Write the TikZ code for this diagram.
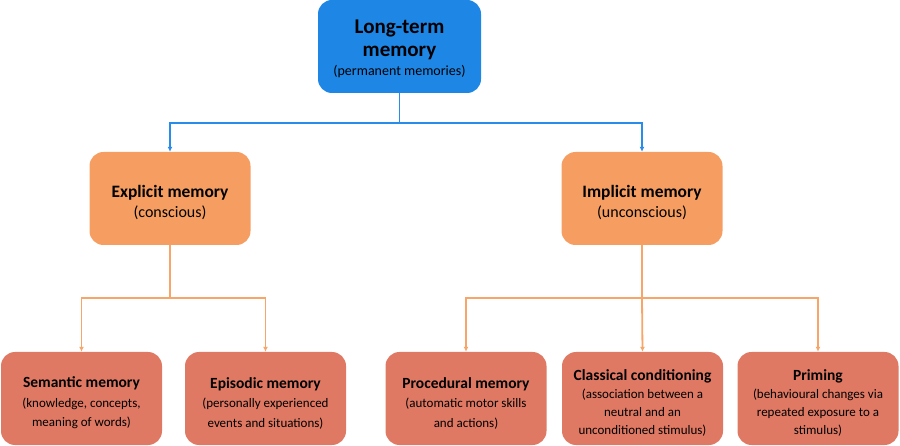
\documentclass[tikz,border=0pt]{standalone}
\usepackage{fontspec}
\setmainfont{Carlito}
\usetikzlibrary{arrows.meta}
\definecolor{topblue}{RGB}{30,134,229}
\definecolor{midorange}{RGB}{246,158,98}
\definecolor{lowsalmon}{RGB}{223,121,100}
\definecolor{lineblue}{RGB}{40,140,235}
\definecolor{lineorange}{RGB}{247,165,105}
\newcommand{\fsz}[1]{\fontsize{#1}{\baselineskip}\selectfont}
\tikzset{
  box/.style={rounded corners=14pt, draw=none, inner sep=0pt, minimum width=161pt, minimum height=93pt},
  topbox/.style={box, fill=topblue, minimum width=163pt},
  midbox/.style={box, fill=midorange},
  lowbox/.style={box, fill=lowsalmon},
  txt/.style={align=center, inner sep=0pt, text=black},
  toptxt/.style={txt, font=\fontsize{21}{23}\selectfont},
  midtxt/.style={txt, font=\fontsize{16}{19.5}\selectfont},
  lowtxt/.style={txt, font=\fontsize{13}{19.5}\selectfont},
  lowtxtb/.style={txt, font=\fontsize{13}{17.7}\selectfont},
  conn/.style={line width=1.8pt, -{Latex[length=5pt,width=5pt]}},
  bconn/.style={conn, draw=lineblue},
  oconn/.style={conn, draw=lineorange},
}
\begin{document}
\begin{tikzpicture}[x=1pt,y=-1pt]
\useasboundingbox (0,0) rectangle (900,446);
\node[topbox] (ltm) at (399.5,46.5) {};
\node[midbox] (exp) at (170,198.5) {};
\node[midbox] (imp) at (642,198.5) {};
\node[lowbox] (sem) at (81.5,398.5) {};
\node[lowbox] (epi) at (265.5,398.5) {};
\node[lowbox] (pro) at (466,398.5) {};
\node[lowbox] (cla) at (642.5,398.5) {};
\node[lowbox] (pri) at (818,398.5) {};
\node[toptxt] (ltmt) at ([yshift=-2pt]ltm.center) {\bfseries\fsz{21}Long-term\\\bfseries\fsz{21}memory\\[-4pt]\normalfont\fsz{14}(permanent memories)};
\node[midtxt] (expt) at ([yshift=-4pt]exp.center) {\bfseries\fsz{17.4}Explicit memory\\\normalfont\fsz{16}(conscious)};
\node[midtxt] (impt) at ([yshift=-4pt]imp.center) {\bfseries\fsz{17.4}Implicit memory\\\normalfont\fsz{16}(unconscious)};
\node[lowtxt] (semt) at ([yshift=-4.5pt]sem.center) {\bfseries\fsz{15.5}Semantic memory\\\normalfont\fsz{13}(knowledge, concepts,\\\normalfont\fsz{13}meaning of words)};
\node[lowtxt] (epit) at ([yshift=-4.5pt]epi.center) {\bfseries\fsz{15.5}Episodic memory\\\normalfont\fsz{13}(personally experienced\\\normalfont\fsz{13}events and situations)};
\node[lowtxt] (prot) at ([yshift=-4.5pt]pro.center) {\bfseries\fsz{15.5}Procedural memory\\\normalfont\fsz{13}(automatic motor skills\\\normalfont\fsz{13}and actions)};
\node[lowtxtb] (clat) at ([yshift=-4.5pt]cla.center) {\bfseries\fsz{15.5}Classical conditioning\\\normalfont\fsz{13}(association between a\\\normalfont\fsz{13}neutral and an\\\normalfont\fsz{13}unconditioned stimulus)};
\node[lowtxtb] (prit) at ([yshift=-4.5pt]pri.center) {\bfseries\fsz{15.5}Priming\\\normalfont\fsz{13}(behavioural changes via\\\normalfont\fsz{13}repeated exposure to a\\\normalfont\fsz{13}stimulus)};
\coordinate (j1) at (399.5,123);
\coordinate (j2) at (170,298);
\coordinate (j3) at (642,298);
\draw[bconn] (ltm.south) -- (j1) -| (exp.north);
\draw[bconn] (j1) -| (imp.north);
\draw[oconn] (exp.south) -- (j2) -| (sem.north);
\draw[oconn] (j2) -| (epi.north);
\draw[oconn] (imp.south) -- (j3) -| (pro.north);
\draw[oconn] (j3) -- (cla.north);
\draw[oconn] (j3) -| (pri.north);
\end{tikzpicture}
\end{document}
